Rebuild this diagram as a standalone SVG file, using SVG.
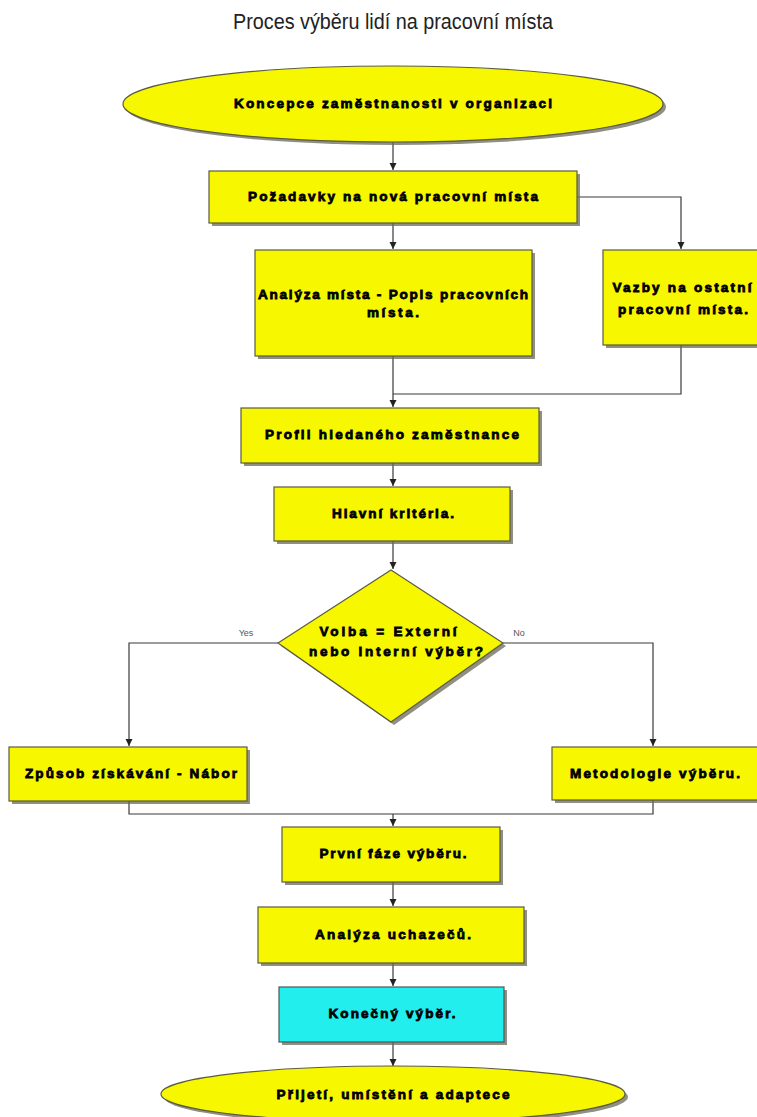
<svg xmlns="http://www.w3.org/2000/svg" width="757" height="1117" viewBox="0 0 757 1117">
<style>
.box{fill:#f7f700;stroke:#5b5b40;stroke-width:1.2}
.cyan{fill:#22eeee;stroke:#4a5a5a;stroke-width:1.2}
.sh{fill:#6a6a5a;opacity:0.75}
.t{font-family:"Liberation Sans",Arial,sans-serif;font-weight:bold;font-size:13.5px;fill:#000;stroke:#000;stroke-width:0.8;text-anchor:middle}
.lbl{font-family:"Liberation Sans",Arial,sans-serif;font-size:9px;fill:#555;text-anchor:middle}
.c{fill:none;stroke:#3a3a3a;stroke-width:1.2}
</style>
<defs>
<marker id="ah" markerWidth="8" markerHeight="8" refX="7" refY="4" orient="auto" markerUnits="userSpaceOnUse">
<path d="M0,0.5 L7,4 L0,7.5 Z" fill="#222"/>
</marker>
</defs>
<rect width="757" height="1117" fill="#fff"/>
<text x="393" y="29" font-family="'Liberation Sans',Arial,sans-serif" font-size="22" fill="#222" text-anchor="middle" textLength="320" lengthAdjust="spacingAndGlyphs">Proces výběru lidí na pracovní místa</text>

<g id="connectors">
<path class="c" d="M393,142 V170" marker-end="url(#ah)"/>
<path class="c" d="M393,223 V249" marker-end="url(#ah)"/>
<path class="c" d="M577,197 H681 V249" marker-end="url(#ah)"/>
<path class="c" d="M393,356 V407" marker-end="url(#ah)"/>
<path class="c" d="M681,345 V394 H393"/>
<path class="c" d="M393,463 V486" marker-end="url(#ah)"/>
<path class="c" d="M393,541 V569" marker-end="url(#ah)"/>
<path class="c" d="M278,643 H129 V746" marker-end="url(#ah)"/>
<path class="c" d="M503,643 H653 V746" marker-end="url(#ah)"/>
<path class="c" d="M129,801 V814 H653 V800"/>
<path class="c" d="M393,814 V826" marker-end="url(#ah)"/>
<path class="c" d="M393,882 V906" marker-end="url(#ah)"/>
<path class="c" d="M393,963 V986" marker-end="url(#ah)"/>
<path class="c" d="M393,1042 V1066" marker-end="url(#ah)"/>
<text class="lbl" x="246" y="636">Yes</text>
<text class="lbl" x="519" y="636">No</text>
</g>

<g id="n_koncepce">
<ellipse class="sh" cx="396" cy="107" rx="270" ry="38"/>
<ellipse class="box" cx="393" cy="104" rx="270" ry="38"/>
<text class="t" x="393" y="108" textLength="318" lengthAdjust="spacing">Koncepce zaměstnanosti v organizaci</text>
</g>

<g id="n_pozadavky">
<rect class="sh" x="212" y="174" width="368" height="52"/>
<rect class="box" x="209" y="171" width="368" height="52"/>
<text class="t" x="393" y="201" textLength="290" lengthAdjust="spacing">Požadavky na nová pracovní místa</text>
</g>

<g id="n_analyza_mista">
<rect class="sh" x="258" y="253" width="277" height="106"/>
<rect class="box" x="255" y="250" width="277" height="106"/>
<text class="t" x="393" y="299" textLength="270" lengthAdjust="spacing">Analýza místa - Popis pracovních</text>
<text class="t" x="393" y="317" textLength="52" lengthAdjust="spacing">místa.</text>
</g>

<g id="n_vazby">
<rect class="sh" x="606" y="253" width="160" height="95"/>
<rect class="box" x="603" y="250" width="160" height="95"/>
<text class="t" x="682" y="292" textLength="139" lengthAdjust="spacing">Vazby na ostatní</text>
<text class="t" x="683" y="314" textLength="130" lengthAdjust="spacing">pracovní místa.</text>
</g>

<g id="n_profil">
<rect class="sh" x="244" y="411" width="298" height="55"/>
<rect class="box" x="241" y="408" width="298" height="55"/>
<text class="t" x="392" y="439" textLength="254" lengthAdjust="spacing">Profil hledaného zaměstnance</text>
</g>

<g id="n_hlavni">
<rect class="sh" x="277" y="490" width="236" height="54"/>
<rect class="box" x="274" y="487" width="236" height="54"/>
<text class="t" x="393" y="518" textLength="122" lengthAdjust="spacing">Hlavní kritéria.</text>
</g>

<g id="n_volba">
<polygon class="sh" points="394,573 506,646 394,725 281,646"/>
<polygon class="box" points="391,570 503,643 391,722 278,643"/>
<text class="t" x="388" y="636" textLength="137" lengthAdjust="spacing">Volba = Externí</text>
<text class="t" x="396" y="656" textLength="174" lengthAdjust="spacing">nebo interní výběr?</text>
</g>

<g id="n_zpusob">
<rect class="sh" x="12" y="750" width="238" height="54"/>
<rect class="box" x="9" y="747" width="238" height="54"/>
<text class="t" x="131" y="778" textLength="212" lengthAdjust="spacing">Způsob získávání - Nábor</text>
</g>

<g id="n_metodologie">
<rect class="sh" x="555" y="750" width="210" height="53"/>
<rect class="box" x="552" y="747" width="210" height="53"/>
<text class="t" x="655" y="778" textLength="170" lengthAdjust="spacing">Metodologie výběru.</text>
</g>

<g id="n_prvni">
<rect class="sh" x="285" y="830" width="218" height="55"/>
<rect class="box" x="282" y="827" width="218" height="55"/>
<text class="t" x="393" y="858" textLength="147" lengthAdjust="spacing">První fáze výběru.</text>
</g>

<g id="n_uchazecu">
<rect class="sh" x="261" y="910" width="266" height="56"/>
<rect class="box" x="258" y="907" width="266" height="56"/>
<text class="t" x="393" y="939" textLength="156" lengthAdjust="spacing">Analýza uchazečů.</text>
</g>

<g id="n_konecny">
<rect class="sh" x="282" y="990" width="225" height="55"/>
<rect class="cyan" x="279" y="987" width="225" height="55"/>
<text class="t" x="392" y="1018" textLength="127" lengthAdjust="spacing">Konečný výběr.</text>
</g>

<g id="n_prijeti">
<ellipse class="sh" cx="396" cy="1097" rx="232" ry="28"/>
<ellipse class="box" cx="393" cy="1094" rx="232" ry="28"/>
<text class="t" x="393" y="1099" textLength="233" lengthAdjust="spacing">Přijetí, umístění a adaptece</text>
</g>
</svg>
